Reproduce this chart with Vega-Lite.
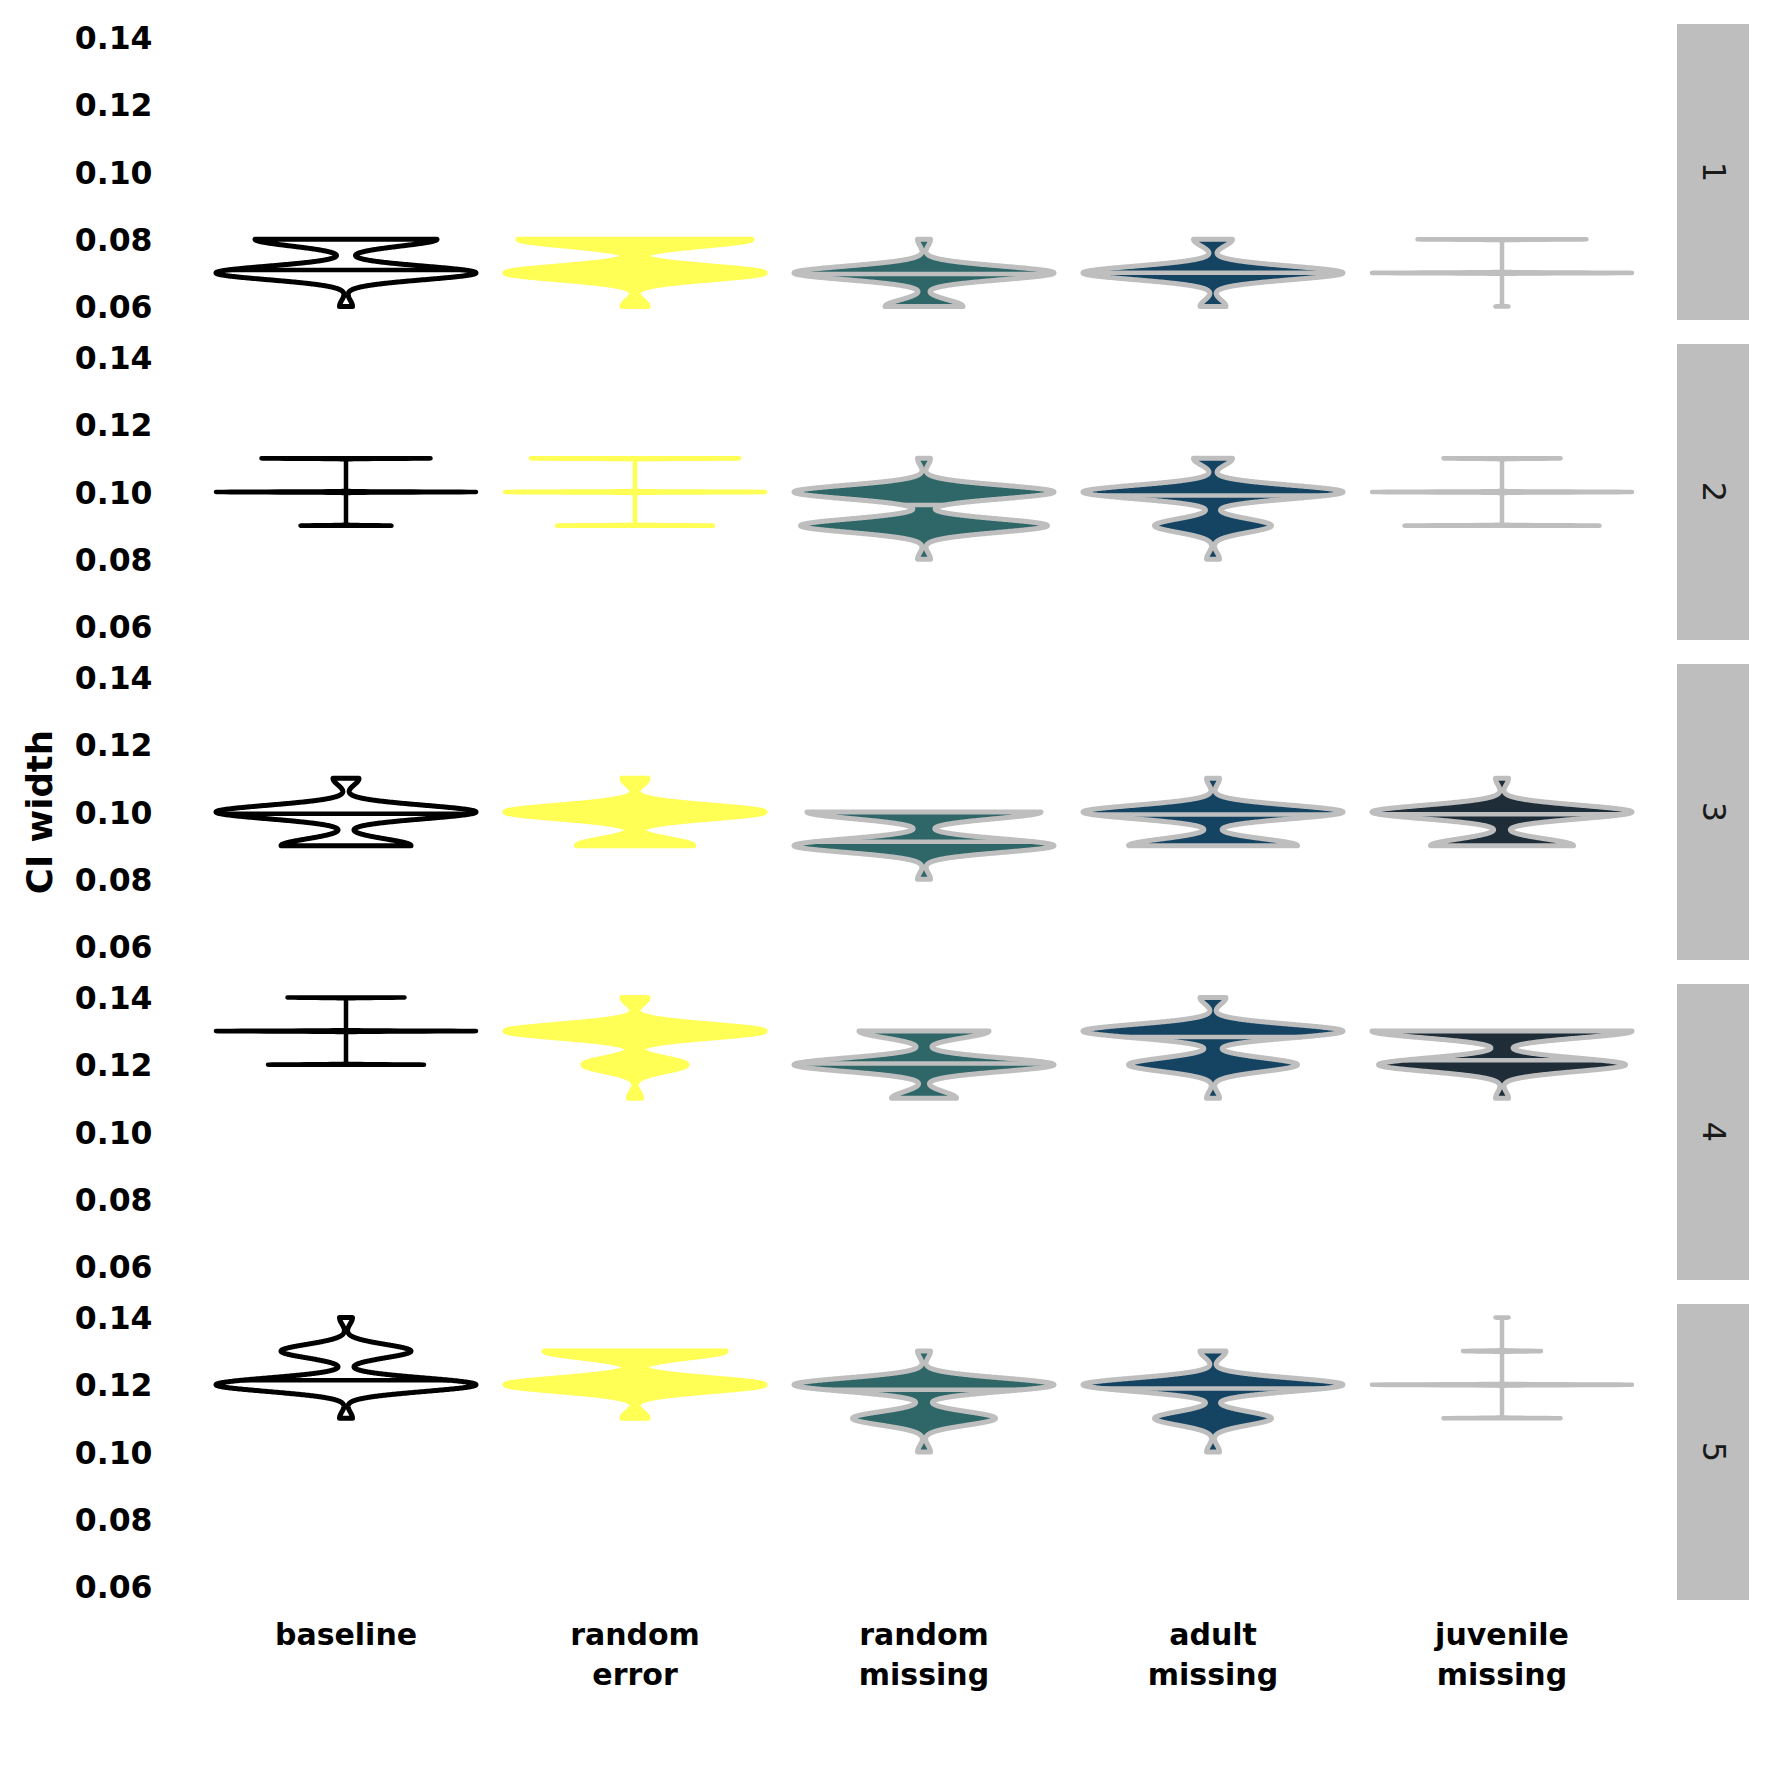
{
  "$schema": "https://vega.github.io/schema/vega-lite/v6.json",
  "background": "white",
  "padding": {"left": 23, "top": 23, "right": 5, "bottom": 5},
  "data": {"values": [
    {"s":1,"g":"baseline","v":[0.06,0.07,0.07,0.07,0.07,0.07,0.07,0.07,0.07,0.07,0.07,0.07,0.07,0.07,0.07,0.07,0.07,0.07,0.07,0.07,0.07,0.08,0.08,0.08,0.08,0.08,0.08,0.08,0.08,0.08,0.08,0.08,0.08,0.08,0.08]},
    {"s":1,"g":"random error","v":[0.06,0.06,0.07,0.07,0.07,0.07,0.07,0.07,0.07,0.07,0.07,0.07,0.07,0.07,0.07,0.07,0.07,0.07,0.07,0.07,0.07,0.07,0.08,0.08,0.08,0.08,0.08,0.08,0.08,0.08,0.08,0.08,0.08,0.08,0.08,0.08,0.08,0.08,0.08,0.08]},
    {"s":1,"g":"random missing","v":[0.06,0.06,0.06,0.06,0.06,0.06,0.07,0.07,0.07,0.07,0.07,0.07,0.07,0.07,0.07,0.07,0.07,0.07,0.07,0.07,0.07,0.07,0.07,0.07,0.07,0.07,0.08]},
    {"s":1,"g":"adult missing","v":[0.06,0.06,0.07,0.07,0.07,0.07,0.07,0.07,0.07,0.07,0.07,0.07,0.07,0.07,0.07,0.07,0.07,0.07,0.07,0.07,0.07,0.07,0.08,0.08,0.08]},
    {"s":1,"g":"juvenile missing","v":[0.06,0.07,0.07,0.07,0.07,0.07,0.07,0.07,0.07,0.07,0.07,0.07,0.07,0.07,0.07,0.07,0.07,0.07,0.07,0.07,0.07,0.08,0.08,0.08,0.08,0.08,0.08,0.08,0.08,0.08,0.08,0.08,0.08,0.08]},
    {"s":2,"g":"baseline","v":[0.09,0.09,0.09,0.09,0.09,0.09,0.09,0.1,0.1,0.1,0.1,0.1,0.1,0.1,0.1,0.1,0.1,0.1,0.1,0.1,0.1,0.1,0.1,0.1,0.1,0.1,0.1,0.11,0.11,0.11,0.11,0.11,0.11,0.11,0.11,0.11,0.11,0.11,0.11,0.11]},
    {"s":2,"g":"random error","v":[0.09,0.09,0.09,0.09,0.09,0.09,0.09,0.09,0.09,0.09,0.09,0.09,0.1,0.1,0.1,0.1,0.1,0.1,0.1,0.1,0.1,0.1,0.1,0.1,0.1,0.1,0.1,0.1,0.1,0.1,0.1,0.1,0.11,0.11,0.11,0.11,0.11,0.11,0.11,0.11,0.11,0.11,0.11,0.11,0.11,0.11,0.11,0.11]},
    {"s":2,"g":"random missing","v":[0.08,0.09,0.09,0.09,0.09,0.09,0.09,0.09,0.09,0.09,0.09,0.09,0.09,0.09,0.09,0.09,0.09,0.09,0.09,0.09,0.1,0.1,0.1,0.1,0.1,0.1,0.1,0.1,0.1,0.1,0.1,0.1,0.1,0.1,0.1,0.1,0.1,0.1,0.1,0.1,0.11]},
    {"s":2,"g":"adult missing","v":[0.08,0.09,0.09,0.09,0.09,0.09,0.09,0.09,0.09,0.09,0.1,0.1,0.1,0.1,0.1,0.1,0.1,0.1,0.1,0.1,0.1,0.1,0.1,0.1,0.1,0.1,0.1,0.1,0.1,0.1,0.11,0.11,0.11]},
    {"s":2,"g":"juvenile missing","v":[0.09,0.09,0.09,0.09,0.09,0.09,0.09,0.09,0.09,0.09,0.09,0.09,0.09,0.09,0.09,0.1,0.1,0.1,0.1,0.1,0.1,0.1,0.1,0.1,0.1,0.1,0.1,0.1,0.1,0.1,0.1,0.1,0.1,0.1,0.1,0.11,0.11,0.11,0.11,0.11,0.11,0.11,0.11,0.11]},
    {"s":3,"g":"baseline","v":[0.09,0.09,0.09,0.09,0.09,0.09,0.09,0.09,0.09,0.09,0.1,0.1,0.1,0.1,0.1,0.1,0.1,0.1,0.1,0.1,0.1,0.1,0.1,0.1,0.1,0.1,0.1,0.1,0.1,0.1,0.11,0.11]},
    {"s":3,"g":"random error","v":[0.09,0.09,0.09,0.09,0.09,0.09,0.09,0.09,0.09,0.1,0.1,0.1,0.1,0.1,0.1,0.1,0.1,0.1,0.1,0.1,0.1,0.1,0.1,0.1,0.1,0.1,0.1,0.1,0.1,0.11,0.11]},
    {"s":3,"g":"random missing","v":[0.08,0.09,0.09,0.09,0.09,0.09,0.09,0.09,0.09,0.09,0.09,0.09,0.09,0.09,0.09,0.09,0.09,0.09,0.09,0.09,0.09,0.1,0.1,0.1,0.1,0.1,0.1,0.1,0.1,0.1,0.1,0.1,0.1,0.1,0.1,0.1,0.1,0.1,0.1]},
    {"s":3,"g":"adult missing","v":[0.09,0.09,0.09,0.09,0.09,0.09,0.09,0.09,0.09,0.09,0.09,0.09,0.09,0.1,0.1,0.1,0.1,0.1,0.1,0.1,0.1,0.1,0.1,0.1,0.1,0.1,0.1,0.1,0.1,0.1,0.1,0.1,0.1,0.11]},
    {"s":3,"g":"juvenile missing","v":[0.09,0.09,0.09,0.09,0.09,0.09,0.09,0.09,0.09,0.09,0.09,0.1,0.1,0.1,0.1,0.1,0.1,0.1,0.1,0.1,0.1,0.1,0.1,0.1,0.1,0.1,0.1,0.1,0.1,0.1,0.1,0.11]},
    {"s":4,"g":"baseline","v":[0.12,0.12,0.12,0.12,0.12,0.12,0.12,0.12,0.12,0.12,0.12,0.12,0.13,0.13,0.13,0.13,0.13,0.13,0.13,0.13,0.13,0.13,0.13,0.13,0.13,0.13,0.13,0.13,0.13,0.13,0.13,0.13,0.14,0.14,0.14,0.14,0.14,0.14,0.14,0.14,0.14]},
    {"s":4,"g":"random error","v":[0.11,0.12,0.12,0.12,0.12,0.12,0.12,0.12,0.12,0.13,0.13,0.13,0.13,0.13,0.13,0.13,0.13,0.13,0.13,0.13,0.13,0.13,0.13,0.13,0.13,0.13,0.13,0.13,0.13,0.14,0.14]},
    {"s":4,"g":"random missing","v":[0.11,0.11,0.11,0.11,0.11,0.12,0.12,0.12,0.12,0.12,0.12,0.12,0.12,0.12,0.12,0.12,0.12,0.12,0.12,0.12,0.12,0.12,0.12,0.12,0.12,0.13,0.13,0.13,0.13,0.13,0.13,0.13,0.13,0.13,0.13]},
    {"s":4,"g":"adult missing","v":[0.11,0.12,0.12,0.12,0.12,0.12,0.12,0.12,0.12,0.12,0.12,0.12,0.12,0.12,0.13,0.13,0.13,0.13,0.13,0.13,0.13,0.13,0.13,0.13,0.13,0.13,0.13,0.13,0.13,0.13,0.13,0.13,0.13,0.13,0.14,0.14]},
    {"s":4,"g":"juvenile missing","v":[0.11,0.12,0.12,0.12,0.12,0.12,0.12,0.12,0.12,0.12,0.12,0.12,0.12,0.12,0.12,0.12,0.12,0.12,0.12,0.12,0.13,0.13,0.13,0.13,0.13,0.13,0.13,0.13,0.13,0.13,0.13,0.13,0.13,0.13,0.13,0.13,0.13,0.13,0.13,0.13]},
    {"s":5,"g":"baseline","v":[0.11,0.12,0.12,0.12,0.12,0.12,0.12,0.12,0.12,0.12,0.12,0.12,0.12,0.12,0.12,0.12,0.12,0.12,0.12,0.12,0.12,0.13,0.13,0.13,0.13,0.13,0.13,0.13,0.13,0.13,0.13,0.14]},
    {"s":5,"g":"random error","v":[0.11,0.11,0.12,0.12,0.12,0.12,0.12,0.12,0.12,0.12,0.12,0.12,0.12,0.12,0.12,0.12,0.12,0.12,0.12,0.12,0.12,0.12,0.13,0.13,0.13,0.13,0.13,0.13,0.13,0.13,0.13,0.13,0.13,0.13,0.13,0.13]},
    {"s":5,"g":"random missing","v":[0.1,0.11,0.11,0.11,0.11,0.11,0.11,0.11,0.11,0.11,0.11,0.11,0.12,0.12,0.12,0.12,0.12,0.12,0.12,0.12,0.12,0.12,0.12,0.12,0.12,0.12,0.12,0.12,0.12,0.12,0.12,0.12,0.13]},
    {"s":5,"g":"adult missing","v":[0.1,0.11,0.11,0.11,0.11,0.11,0.11,0.11,0.11,0.11,0.12,0.12,0.12,0.12,0.12,0.12,0.12,0.12,0.12,0.12,0.12,0.12,0.12,0.12,0.12,0.12,0.12,0.12,0.12,0.12,0.13,0.13]},
    {"s":5,"g":"juvenile missing","v":[0.11,0.11,0.11,0.11,0.11,0.11,0.11,0.11,0.11,0.12,0.12,0.12,0.12,0.12,0.12,0.12,0.12,0.12,0.12,0.12,0.12,0.12,0.12,0.12,0.12,0.12,0.12,0.12,0.12,0.13,0.13,0.13,0.13,0.13,0.13,0.14]}
  ]},
  "spacing": 42,
  "hconcat": [
    {
      "transform": [{"flatten": ["v"]}],
      "facet": {
        "row": {"field": "s", "type": "ordinal", "header": {"title": "CI width", "titleOrient": "left", "labels": false, "titleFontSize": 35.5, "titleFontWeight": "bold", "titleColor": "black", "titlePadding": 4.5}},
        "column": {"field": "g", "type": "nominal", "sort": ["baseline", "random error", "random missing", "adult missing", "juvenile missing"], "header": {"title": null, "labelOrient": "bottom", "labelExpr": "split(datum.label, ' ')", "labelFontSize": 30, "labelFontWeight": "bold", "labelColor": "black", "labelLineHeight": 40, "labelPadding": 21}}
      },
      "bounds": "flush",
      "spacing": {"row": 24, "column": 29},
      "resolve": {"scale": {"x": "independent"}},
      "spec": {
        "width": 260,
        "height": 296,
        "layer": [
          {
            "transform": [
              {"filter": "!((datum.s==1&&datum.g=='juvenile missing')||(datum.s==2&&(datum.g=='baseline'||datum.g=='random error'||datum.g=='juvenile missing'))||(datum.s==4&&datum.g=='baseline')||(datum.s==5&&datum.g=='juvenile missing'))"},
              {"density": "v", "groupby": ["s", "g"], "bandwidth": 0.002, "steps": 600, "as": ["value", "density"]},
              {"stack": "density", "groupby": ["s", "g", "value"], "offset": "center", "as": ["x0", "x1"]}
            ],
            "layer": [
              {
                "mark": {"type": "area", "orient": "horizontal", "strokeWidth": 5, "strokeJoin": "round"},
                "encoding": {
                  "y": {"field": "value", "type": "quantitative", "scale": {"domain": [0.056, 0.144], "nice": false, "zero": false}, "axis": {"values": [0.06, 0.08, 0.1, 0.12, 0.14], "format": ".2f", "title": null, "ticks": false, "domain": false, "grid": false, "labelFontSize": 31.5, "labelFontWeight": "bold", "labelColor": "black", "labelPadding": 64, "labelOffset": 2, "labelFlush": false, "labelOverlap": false, "labelBound": false}},
                  "x": {"field": "x0", "type": "quantitative", "scale": {"zero": false, "nice": false}, "axis": null},
                  "x2": {"field": "x1"},
                  "fill": {"field": "g", "type": "nominal", "scale": {"domain": ["baseline", "random error", "random missing", "adult missing", "juvenile missing"], "range": ["white", "#FFFF55", "#2F6769", "#154362", "#1F2D38"]}, "legend": null},
                  "stroke": {"field": "g", "type": "nominal", "scale": {"domain": ["baseline", "random error", "random missing", "adult missing", "juvenile missing"], "range": ["black", "#FFFF55", "#BEBEBE", "#BEBEBE", "#BEBEBE"]}, "legend": null}
                }
              },
              {
                "transform": [
                  {"window": [{"op": "sum", "field": "density", "as": "cum"}], "groupby": ["s", "g"], "sort": [{"field": "value", "order": "ascending"}], "frame": [null, 0]},
                  {"joinaggregate": [{"op": "sum", "field": "density", "as": "tot"}], "groupby": ["s", "g"]},
                  {"filter": "datum.cum >= datum.tot/2 && datum.cum - datum.density < datum.tot/2"}
                ],
                "mark": {"type": "rule", "strokeWidth": 4.5, "strokeCap": "butt"},
                "encoding": {
                  "y": {"field": "value", "type": "quantitative"},
                  "x": {"field": "x0", "type": "quantitative", "axis": null},
                  "x2": {"field": "x1"},
                  "stroke": {"field": "g", "type": "nominal", "legend": null}
                }
              }
            ]
          },
          {
            "transform": [
              {"filter": "(datum.s==1&&datum.g=='juvenile missing')||(datum.s==2&&(datum.g=='baseline'||datum.g=='random error'||datum.g=='juvenile missing'))||(datum.s==4&&datum.g=='baseline')||(datum.s==5&&datum.g=='juvenile missing')"},
              {"density": "v", "groupby": ["s", "g"], "bandwidth": 0.0001, "steps": 1200, "as": ["value", "density"]},
              {"stack": "density", "groupby": ["s", "g", "value"], "offset": "center", "as": ["x0", "x1"]}
            ],
            "mark": {"type": "area", "orient": "horizontal", "strokeWidth": 4.5, "strokeJoin": "round"},
            "encoding": {
              "y": {"field": "value", "type": "quantitative"},
              "x": {"field": "x0", "type": "quantitative", "axis": null},
              "x2": {"field": "x1"},
              "fill": {"field": "g", "type": "nominal", "legend": null},
              "stroke": {"field": "g", "type": "nominal", "legend": null}
            }
          }
        ]
      }
    },
    {
      "transform": [{"aggregate": [{"op": "count", "as": "n"}], "groupby": ["s"]}],
      "facet": {"row": {"field": "s", "type": "ordinal", "header": null}},
      "spacing": 24,
      "spec": {
        "width": 72,
        "height": 296,
        "view": {"fill": "#BEBEBE", "stroke": null},
        "mark": {"type": "text", "angle": 90, "fontSize": 32, "fontWeight": "normal", "color": "#1A1A1A", "align": "center", "baseline": "middle"},
        "encoding": {"text": {"field": "s", "type": "ordinal"}}
      }
    }
  ],
  "config": {
    "font": "DejaVu Sans",
    "view": {"stroke": null},
    "axis": {"labelFont": "DejaVu Sans"},
    "header": {"labelFont": "DejaVu Sans", "titleFont": "DejaVu Sans"},
    "text": {"font": "DejaVu Sans"}
  }
}
